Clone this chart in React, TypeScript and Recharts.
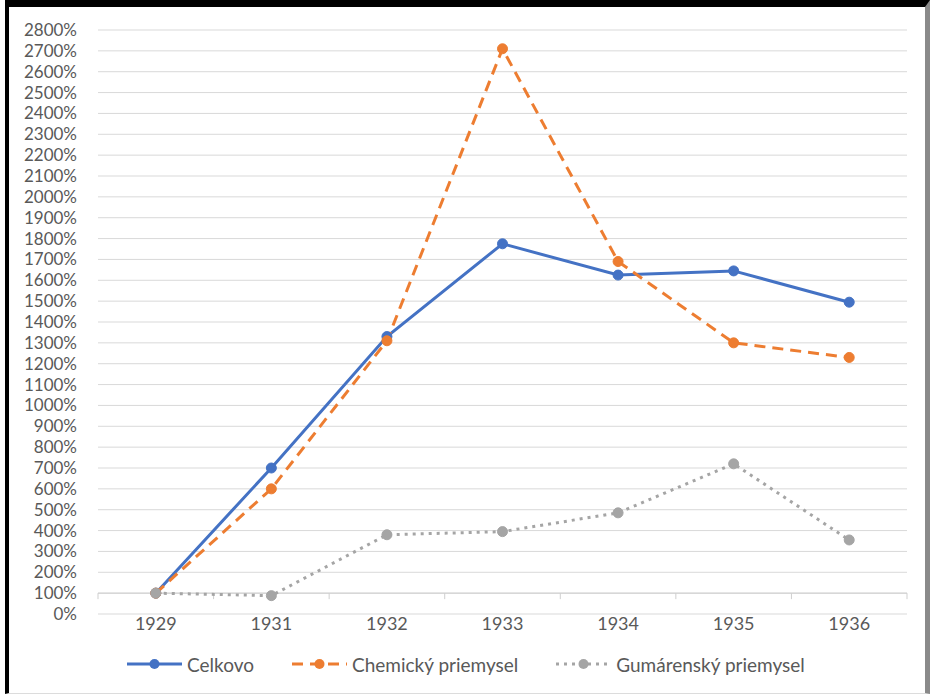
import React from 'react';
import { LineChart, Line, XAxis, YAxis, CartesianGrid, ReferenceLine } from 'recharts';

// indexy rastu, 1929 = 100 %
const years = ['1929', '1931', '1932', '1933', '1934', '1935', '1936'];
const celkovo = [100, 700, 1330, 1775, 1625, 1645, 1495];
const chemicky = [100, 600, 1310, 2710, 1690, 1300, 1230];
const gumarensky = [100, 88, 380, 395, 485, 720, 355];
const yTicks = [0, 100, 200, 300, 400, 500, 600, 700, 800, 900, 1000, 1100, 1200, 1300, 1400,
  1500, 1600, 1700, 1800, 1900, 2000, 2100, 2200, 2300, 2400, 2500, 2600, 2700, 2800];

const series = [
  { key: 'celkovo', name: 'Celkovo', color: '#4472C4', dash: undefined as string | undefined },
  { key: 'chemicky', name: 'Chemický priemysel', color: '#ED7D31', dash: '11 7' },
  { key: 'gumarensky', name: 'Gumárenský priemysel', color: '#A5A5A5', dash: '3 5' },
];

const data = years.map((year, i) => ({
  year,
  celkovo: celkovo[i],
  chemicky: chemicky[i],
  gumarensky: gumarensky[i],
}));

const FONT = 'Lato, "Noto Sans", sans-serif';
const TEXT = '#595959';

// os kategorii v Exceli pretina hodnotu 100 %, so znackami medzi rokmi
const CrossAxis = (props: any) => {
  const { x1, y1, x2 } = props;
  const n = years.length;
  const marks = [];
  for (let i = 0; i <= n; i++) {
    const x = x1 + ((x2 - x1) * i) / n;
    marks.push(<line key={i} x1={x} y1={y1} x2={x} y2={y1 + 6} stroke="#cfcfcf" strokeWidth={1} />);
  }
  return (
    <g>
      <line x1={x1} y1={y1} x2={x2} y2={y1} stroke="#cfcfcf" strokeWidth={1} />
      {marks}
    </g>
  );
};

export default function App() {
  return (
    <div style={{ position: 'absolute', left: 0, top: 0, width: 930, height: 695, background: '#fff', overflow: 'hidden' }}>
      <div
        style={{
          position: 'absolute', left: 5, top: 0, width: 925, height: 694, boxSizing: 'border-box',
          borderTop: '7px solid #000', borderLeft: '4px solid #000', borderRight: '5px solid #8a8a8a',
          borderBottom: '1px solid #dcdcdc',
        }}
      />
      <div style={{ position: 'absolute', left: 0, top: 0 }}>
        <LineChart width={930} height={695} data={data} margin={{ top: 30, right: 23, bottom: 51, left: 0 }}>
          <CartesianGrid vertical={false} stroke="#d9d9d9" strokeWidth={1} />
          <XAxis
            dataKey="year"
            scale="band"
            height={30}
            axisLine={false}
            tickLine={false}
            tickSize={0}
            tickMargin={3}
            interval={0}
            tick={{ fill: TEXT, fontSize: 18, fontFamily: FONT }}
          />
          <YAxis
            width={98}
            domain={[0, 2800]}
            ticks={yTicks}
            interval={0}
            axisLine={false}
            tickLine={false}
            tickSize={0}
            tickMargin={21}
            tickFormatter={(v: number) => `${v}%`}
            tick={{ fill: TEXT, fontSize: 17, fontFamily: FONT }}
          />
          <ReferenceLine y={100} shape={CrossAxis} />
          {series.map((s) => (
            <Line
              key={s.key}
              dataKey={s.key}
              name={s.name}
              stroke={s.color}
              strokeWidth={3}
              strokeDasharray={s.dash}
              dot={{ r: 5, fill: s.color, stroke: s.color, strokeWidth: 1, strokeDasharray: '' }}
              activeDot={false}
              isAnimationActive={false}
            />
          ))}
        </LineChart>
      </div>
      <div
        style={{
          position: 'absolute', left: 127, top: 652, height: 24, display: 'flex', alignItems: 'center',
          gap: 38, fontFamily: FONT, fontSize: 19, color: TEXT, whiteSpace: 'nowrap',
        }}
      >
        {series.map((s) => (
          <div key={s.key} style={{ display: 'flex', alignItems: 'center', gap: 5 }}>
            <svg width={55} height={14}>
              <line x1={0} y1={7} x2={55} y2={7} stroke={s.color} strokeWidth={3} strokeDasharray={s.dash} />
              <circle cx={27.5} cy={7} r={5} fill={s.color} />
            </svg>
            <span>{s.name}</span>
          </div>
        ))}
      </div>
    </div>
  );
}
